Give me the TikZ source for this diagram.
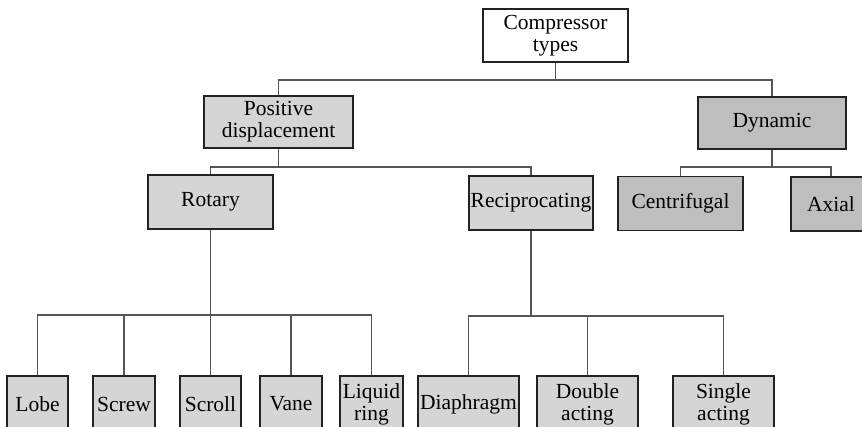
\documentclass[tikz,border=0pt]{standalone}
\usepackage{fontspec}
\setmainfont{Liberation Serif}
\usepackage{xcolor}
\usepackage{tikz}
\usetikzlibrary{positioning,calc}
\definecolor{boxlight}{HTML}{D5D5D5}
\definecolor{boxdark}{HTML}{BEBEBE}
\definecolor{wire}{HTML}{555555}
\definecolor{edge}{HTML}{222222}

\begin{document}
\begin{tikzpicture}[x=1pt, y=-1pt, font=\fontsize{21.5}{22}\selectfont]
  \tikzset{kind/.style={draw=edge, line width=1.1pt, inner sep=0, align=center},
           root/.style={kind, fill=white},
           lite/.style={kind, fill=boxlight},
           dark/.style={kind, fill=boxdark},
           leaf/.style={lite, minimum height=56pt},
           wirel/.style={draw=wire, line width=1.4pt}}
  \useasboundingbox (0,0) rectangle (862,427);
  \clip (0,0) rectangle (862,427);
  % top levels
  \node[root, minimum width=145pt, minimum height=53pt] (types) at (555.5, 35.5) {Compressor\\types};
  \node[lite, minimum width=149pt, minimum height=52pt] (posdisp) at (278.5, 122) {Positive\\displacement};
  \node[dark, minimum width=148pt, minimum height=52pt] (dynamic) at (772, 123) {Dynamic};
  \node[lite, minimum width=125pt, minimum height=54pt] (rotary) at (210.5, 202) {Rotary};
  \node[lite, minimum width=124pt, minimum height=54pt] (recip) at (531, 203) {Reciprocating};
  \node[dark, minimum width=125pt, minimum height=54pt] (centri) at (680.5, 203.5) {Centrifugal};
  \node[dark, minimum width=80pt, minimum height=54pt] (axial) at (831, 204) {Axial};
  % leaves
  \node[leaf, minimum width=61pt] (lobe) at (37.5, 404) {Lobe};
  \node[leaf, minimum width=62pt] (screw) at (124, 404) {Screw};
  \node[leaf, minimum width=61pt] (scroll) at (210.5, 404) {Scroll};
  \node[leaf, minimum width=62pt] (vane) at (291, 404) {Vane};
  \node[leaf, minimum width=63pt] (liquid) at (371.5, 404) {Liquid\\ring};
  \node[leaf, minimum width=101pt] (diaph) at (468.5, 404) {Diaphragm};
  \node[leaf, minimum width=101pt] (double) at (587.5, 404) {Double\\acting};
  \node[leaf, minimum width=101pt] (single) at (723.5, 404) {Single\\acting};
  % buses
  \coordinate (b0) at (555.5, 80);
  \coordinate (b1) at (278.5, 167);
  \coordinate (b2) at (772, 167);
  \coordinate (b3) at (210.5, 315);
  \coordinate (b4) at (531, 316);
  \draw[wirel] (types) -- (b0) -| (posdisp);
  \draw[wirel] (b0) -| (dynamic);
  \draw[wirel] (posdisp) -- (b1) -| (rotary);
  \draw[wirel] (b1) -| (recip);
  \draw[wirel] (dynamic) -- (b2) -| (centri);
  \draw[wirel] (b2) -| (axial);
  \draw[wirel] (rotary) -- (b3);
  \foreach \n in {lobe,screw,scroll,vane,liquid} \draw[wirel] (b3) -| (\n);
  \draw[wirel] (recip) -- (b4);
  \foreach \n in {diaph,double,single} \draw[wirel] (b4) -| (\n);
\end{tikzpicture}
\end{document}
